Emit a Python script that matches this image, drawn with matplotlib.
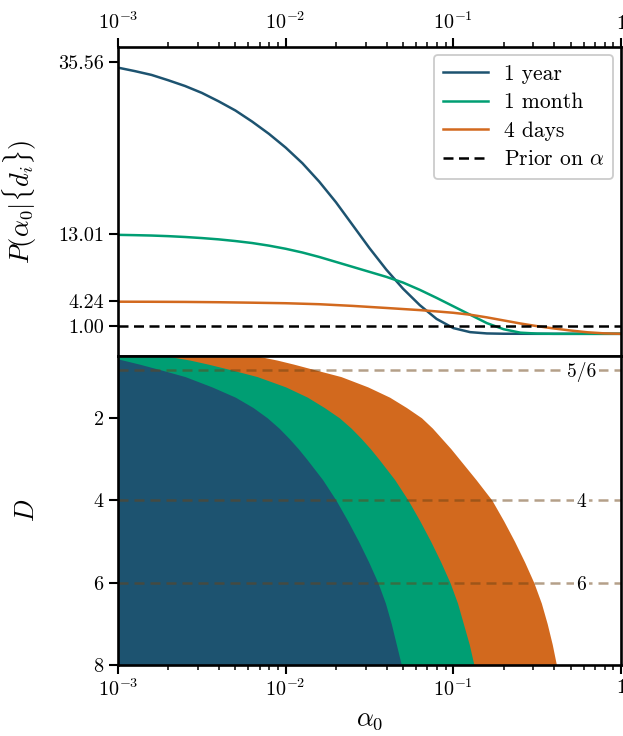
import numpy as np
import matplotlib
matplotlib.use("Agg")
import matplotlib.pyplot as plt
from matplotlib.ticker import FixedLocator, FuncFormatter, LogLocator, NullFormatter

plt.rcParams['font.family'] = 'serif'
plt.rcParams['font.serif'] = ['cmr10']
plt.rcParams['mathtext.fontset'] = 'cm'
plt.rcParams['axes.formatter.use_mathtext'] = True
plt.rcParams['axes.unicode_minus'] = False

# ---------------- data ----------------
labels = ["1 year", "1 month", "4 days"]
colors = ["#1d5370", "#009e73", "#d2691e"]

# top panel: posterior P(alpha0 | {d_i}) vs log10(alpha0)
year_logalpha = [-3.0, -2.9, -2.8, -2.7, -2.6, -2.5, -2.4, -2.3, -2.2, -2.1, -2.0, -1.9, -1.8,
                 -1.7, -1.6, -1.5, -1.4, -1.3, -1.2, -1.1, -1.0, -0.9, -0.8, -0.7, -0.5, 0.0]
year_P = [34.8, 34.35, 33.85, 33.15, 32.4, 31.5, 30.4, 29.2, 27.75, 26.15, 24.35, 22.3, 19.9,
          17.2, 14.2, 11.2, 8.4, 5.9, 3.75, 1.95, 0.75, 0.22, 0.05, 0.01, 0.0, 0.0]

month_logalpha = [-3.0, -2.9, -2.8, -2.7, -2.6, -2.5, -2.4, -2.3, -2.2, -2.1, -2.0, -1.9, -1.8,
                  -1.7, -1.6, -1.5, -1.4, -1.3, -1.2, -1.1, -1.0, -0.9, -0.8, -0.7, -0.6, -0.5,
                  -0.4, 0.0]
month_P = [12.94, 12.9, 12.85, 12.77, 12.66, 12.52, 12.35, 12.13, 11.87, 11.53, 11.12, 10.63, 10.05,
           9.4, 8.75, 8.1, 7.45, 6.7, 5.75, 4.7, 3.6, 2.5, 1.4, 0.6, 0.15, 0.03,
           0.0, 0.0]

days_logalpha = [-3.0, -2.8, -2.6, -2.4, -2.2, -2.0, -1.8, -1.6, -1.4, -1.2, -1.1, -1.0, -0.9,
                 -0.8, -0.7, -0.6, -0.5, -0.4, -0.3, -0.2, -0.1, 0.0]
days_P = [4.2, 4.19, 4.17, 4.13, 4.07, 4.0, 3.87, 3.65, 3.38, 3.1, 2.93, 2.75, 2.5,
          2.15, 1.75, 1.35, 1.0, 0.7, 0.43, 0.2, 0.06, 0.0]

prior_value = 1.0
top_ticks = [35.56, 13.01, 4.24, 1.00]

# bottom panel: largest allowed log10(alpha0) as a function of D
D_grid = [0.5, 0.6, 0.7, 0.83, 1.0, 1.25, 1.5, 1.75, 2.0, 2.25, 2.5, 2.75, 3.0, 3.5, 4.0,
          4.5, 5.0, 5.5, 6.0, 6.5, 7.0, 7.5, 8.0]
year_bound = [-3.08, -2.97, -2.87, -2.75, -2.60, -2.44, -2.30, -2.195, -2.11, -2.04, -1.98, -1.925,
              -1.875, -1.78, -1.70, -1.63, -1.565, -1.505, -1.45, -1.405, -1.37, -1.34, -1.31]
month_bound = [-2.71, -2.57, -2.46, -2.33, -2.17, -2.00, -1.87, -1.77, -1.68, -1.61, -1.55, -1.495,
               -1.445, -1.35, -1.27, -1.20, -1.135, -1.075, -1.02, -0.975, -0.94, -0.905, -0.877]
days_bound = [-2.17, -2.05, -1.95, -1.83, -1.67, -1.51, -1.38, -1.28, -1.19, -1.125, -1.07, -1.015,
              -0.965, -0.865, -0.77, -0.70, -0.635, -0.575, -0.52, -0.475, -0.44, -0.41, -0.385]

ref_D = [5/6, 4, 6]
ref_labels = ["5/6", "4", "6"]
bottom_ticks = [2, 4, 6, 8]
xtick_vals = [1e-3, 1e-2, 1e-1, 1]

# ---------------- figure ----------------
fig = plt.figure(figsize=(6.23, 7.36), dpi=100)
W, H = 623, 736
L, R = 118, 621
ax1 = fig.add_axes([L / W, 1 - 356 / H, (R - L) / W, 309 / H])
ax2 = fig.add_axes([L / W, 1 - 665 / H, (R - L) / W, 309 / H])

lw = 1.8
for lx, ly, lab, c in zip([year_logalpha, month_logalpha, days_logalpha],
                          [year_P, month_P, days_P], labels, colors):
    ax1.plot(10 ** np.array(lx), ly, color=c, lw=lw, label=lab)
ax1.axhline(prior_value, color='black', ls=(0, (4, 2.2)), lw=lw, label=r'Prior on $\alpha$')

ax1.set_xscale('log')
ax1.set_xlim(1e-3, 1)
ax1.set_ylim(-2.9, 37.5)
ax1.set_yticks(top_ticks)
ax1.set_yticklabels(["%.2f" % v for v in top_ticks])
ax1.set_ylabel(r'$P(\alpha_0|\{d_i\})$', fontsize=19)
ax1.yaxis.set_label_coords(-0.157, 0.5)

fmt = FuncFormatter(lambda v, p: r'$1$' if abs(v - 1) < 1e-9 else r'$10^{%d}$' % int(round(np.log10(v))))
for ax in (ax1, ax2):
    ax.xaxis.set_major_locator(FixedLocator(xtick_vals))
    ax.xaxis.set_major_formatter(fmt)
    ax.xaxis.set_minor_locator(LogLocator(base=10, subs=np.arange(2, 10), numticks=20))
    ax.xaxis.set_minor_formatter(NullFormatter())
    for s in ax.spines.values():
        s.set_linewidth(1.9)
    ax.tick_params(which='major', direction='out', length=6.5, width=1.5, labelsize=14.5)
    ax.tick_params(which='minor', direction='out', length=3.5, width=1.1)

ax1.tick_params(axis='x', which='both', top=True, bottom=False, labeltop=True, labelbottom=False)
ax1.tick_params(axis='y', which='both', right=False)

leg = ax1.legend(loc='upper right', fontsize=15.5, frameon=True, fancybox=True,
                 edgecolor='#cccccc', framealpha=1.0, handlelength=2.1,
                 borderpad=0.45, labelspacing=0.42, handletextpad=0.7,
                 borderaxespad=0.35)
leg.get_frame().set_linewidth(1.3)

# bottom panel
for b, c in zip([days_bound, month_bound, year_bound], [colors[2], colors[1], colors[0]]):
    ax2.fill_betweenx(D_grid, 1e-4, 10 ** np.array(b), color=c, lw=0)

for d, t in zip(ref_D, ref_labels):
    ax2.axhline(d, color='#6b4214', alpha=0.5, ls=(0, (4, 2.4)), lw=1.8)
    ax2.text(0.58, d, t, ha='center', va='center_baseline', fontsize=14,
             bbox=dict(facecolor='white', edgecolor='none', pad=2.0))

ax2.set_xscale('log')
ax2.set_xlim(1e-3, 1)
ax2.set_ylim(8, 0.5)
ax2.set_yticks(bottom_ticks)
ax2.set_ylabel(r'$D$', fontsize=19)
ax2.yaxis.set_label_coords(-0.157, 0.5)
ax2.set_xlabel(r'$\alpha_0$', fontsize=19, labelpad=6)
ax2.tick_params(axis='x', which='both', top=False, bottom=True)
ax2.tick_params(axis='y', which='both', right=False)
ax2.xaxis.set_major_locator(FixedLocator(xtick_vals))
ax2.xaxis.set_major_formatter(fmt)

fig.savefig('out.png', dpi=100)
